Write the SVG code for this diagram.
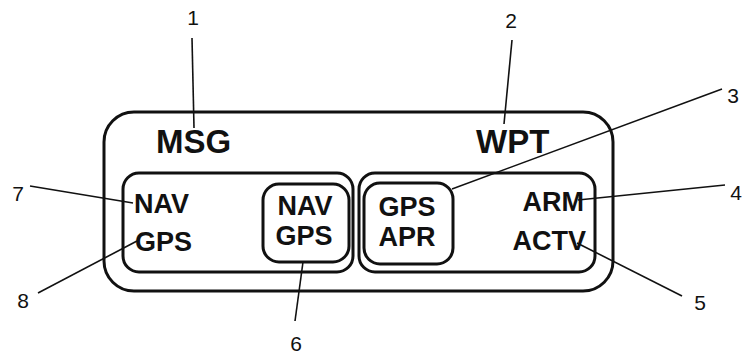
<svg xmlns="http://www.w3.org/2000/svg" width="744" height="356" viewBox="0 0 744 356">
  <style>
    .box { fill: none; stroke: #111; stroke-width: 3; }
    .lbl { font-family: "Liberation Sans", Arial, sans-serif; font-weight: bold; fill: #111; }
    .num { font-family: "Liberation Sans", Arial, sans-serif; font-size: 21px; fill: #111; text-anchor: middle; }
    .lead { stroke: #111; stroke-width: 1.6; fill: none; }
  </style>
  <rect width="744" height="356" fill="#fff"/>

  <g id="outer">
    <rect class="box" x="104" y="112" width="509" height="179" rx="30" ry="30"/>
    <text class="lbl" x="156" y="153" font-size="33">MSG</text>
    <text class="lbl" x="476" y="153" font-size="33">WPT</text>
  </g>

  <g id="left-panel">
    <rect class="box" x="123" y="173" width="230" height="99" rx="16" ry="16"/>
    <text class="lbl" x="134" y="213" font-size="27">NAV</text>
    <text class="lbl" x="135" y="251" font-size="27">GPS</text>
  </g>

  <g id="nav-gps-box">
    <rect class="box" x="263" y="184" width="86" height="78" rx="16" ry="16"/>
    <text class="lbl" x="305" y="215" font-size="27" text-anchor="middle">NAV</text>
    <text class="lbl" x="304" y="245" font-size="27" text-anchor="middle">GPS</text>
  </g>

  <g id="right-panel">
    <rect class="box" x="359" y="173" width="236" height="99" rx="16" ry="16"/>
    <text class="lbl" x="584" y="211" font-size="27" text-anchor="end">ARM</text>
    <text class="lbl" x="586" y="250" font-size="27" text-anchor="end">ACTV</text>
  </g>

  <g id="gps-apr-box">
    <rect class="box" x="364" y="183" width="89" height="81" rx="16" ry="16"/>
    <text class="lbl" x="407" y="216" font-size="27" text-anchor="middle">GPS</text>
    <text class="lbl" x="407" y="246" font-size="27" text-anchor="middle">APR</text>
  </g>

  <g id="connectors">
    <line class="lead" x1="192" y1="38" x2="194" y2="128"/>
    <line class="lead" x1="512" y1="40" x2="504" y2="124"/>
    <line class="lead" x1="722" y1="89" x2="452" y2="189"/>
    <line class="lead" x1="725" y1="185" x2="578" y2="200"/>
    <line class="lead" x1="682" y1="296" x2="577" y2="243"/>
    <line class="lead" x1="295" y1="321" x2="303" y2="262"/>
    <line class="lead" x1="30" y1="186" x2="133" y2="203"/>
    <line class="lead" x1="38" y1="293" x2="137" y2="241"/>
  </g>

  <g id="callouts">
    <text class="num" x="193" y="25">1</text>
    <text class="num" x="511" y="28">2</text>
    <text class="num" x="733" y="103">3</text>
    <text class="num" x="736" y="200">4</text>
    <text class="num" x="700" y="310">5</text>
    <text class="num" x="296" y="351">6</text>
    <text class="num" x="18" y="201">7</text>
    <text class="num" x="23" y="308">8</text>
  </g>
</svg>
